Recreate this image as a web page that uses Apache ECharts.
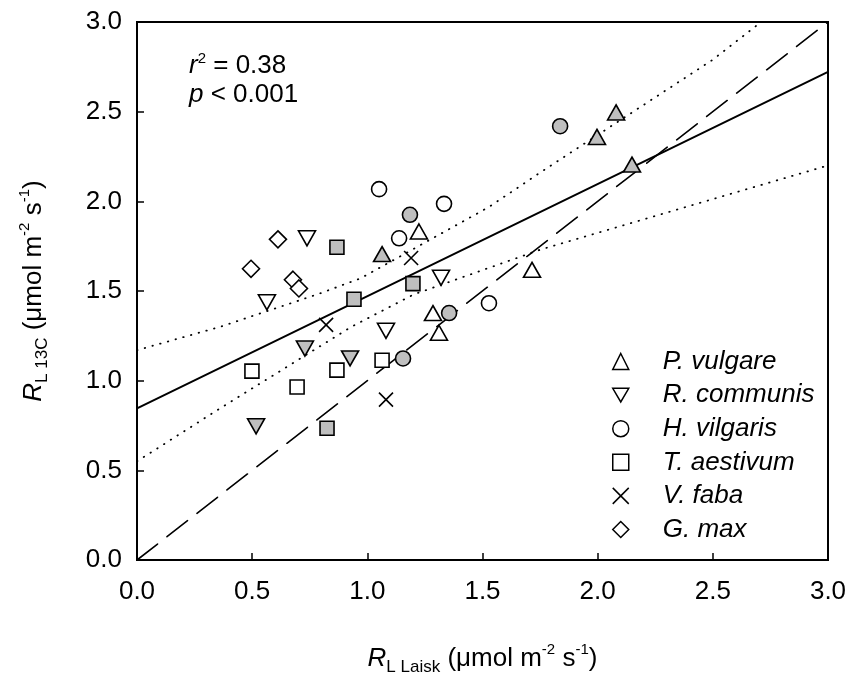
<!DOCTYPE html>
<html>
<head>
<meta charset="utf-8">
<script src="https://cdn.jsdelivr.net/npm/echarts@6/dist/echarts.min.js"></script>
<style>
html,body{margin:0;padding:0;background:#fff;}
#chart{width:852px;height:681px;}
</style>
</head>
<body>
<div id="chart"></div>
<script>
// ---- data ----
const xTickLabels = ['0.0','0.5','1.0','1.5','2.0','2.5','3.0'];
const yTickLabels = ['0.0','0.5','1.0','1.5','2.0','2.5','3.0'];
const speciesNames = ['P. vulgare','R. communis','H. vilgaris','T. aestivum','V. faba','G. max'];

const pVulgareOpen   = [[1.224,1.832],[1.285,1.377],[1.311,1.267],[1.715,1.618]];
const pVulgareFilled = [[1.064,1.706],[1.997,2.359],[2.080,2.496],[2.149,2.205]];
const rCommunisOpen   = [[0.738,1.794],[0.564,1.437],[1.320,1.574],[1.081,1.278]];
const rCommunisFilled = [[0.729,1.179],[0.925,1.124],[0.517,0.746]];
const hVilgarisOpen   = [[1.051,2.068],[1.333,1.986],[1.138,1.794],[1.528,1.432]];
const hVilgarisFilled = [[1.185,1.925],[1.355,1.377],[1.155,1.124],[1.837,2.419]];
const tAestivumOpen   = [[0.499,1.053],[0.695,0.965],[0.868,1.059],[1.064,1.114]];
const tAestivumFilled = [[0.868,1.744],[1.198,1.541],[0.942,1.454],[0.825,0.735]];
const vFaba = [[1.190,1.684],[0.821,1.311],[1.081,0.894]];
const gMax  = [[0.612,1.788],[0.495,1.624],[0.677,1.563],[0.703,1.514]];

const regressionLine = [[0,0.845],[3,2.722]];
const oneToOneLine   = [[0,0],[3,3]];
const ciUpper = [[0,1.17],[0.36,1.30],[0.78,1.48],[0.97,1.57],[1.53,1.97],[1.75,2.16],[2.5,2.79],[2.71,3.0]];
const ciLower = [[0,0.55],[0.36,0.845],[0.93,1.30],[1.2,1.48],[1.75,1.73],[2.6,2.05],[3.0,2.20]];

// ---- chart ----
const FONT = 'Liberation Sans, Arial, sans-serif';
const FS = 26;
const GRAY = '#bfbfbf';
const TRI_DOWN = 'path://M0,0L20,0L10,17Z';
const CROSS = 'path://M0,0L10,10M10,0L0,10';

function scatter(name, data, symbol, size, fill) {
  return {
    type: 'scatter', name: name, data: data, symbol: symbol, symbolSize: size,
    itemStyle: {color: fill, borderColor: '#000', borderWidth: 1.6, opacity: 1},
    emphasis: {disabled: true}, z: 3
  };
}
function line(data, width, type) {
  return {
    type: 'line', data: data, symbol: 'none', silent: true, smooth: false,
    lineStyle: {color: '#000', width: width, type: type, cap: 'round'}, z: 2
  };
}
function titleRich() {
  return {
    i: {fontStyle: 'italic', fontSize: FS, lineHeight: 34, fontFamily: FONT, color: '#000'},
    n: {fontSize: FS, lineHeight: 34, fontFamily: FONT, color: '#000'},
    sub: {fontSize: 17, lineHeight: 16, verticalAlign: 'bottom', fontFamily: FONT, color: '#000'},
    sup: {fontSize: 15, lineHeight: 18, verticalAlign: 'top', fontFamily: FONT, color: '#000'}
  };
}

const openStyle = {color: '#fff', borderColor: '#000', borderWidth: 1.5};

const chart = echarts.init(document.getElementById('chart'), null, {renderer: 'canvas'});
chart.setOption({
  animation: false,
  backgroundColor: '#fff',
  textStyle: {fontFamily: FONT},
  grid: {left: 137, right: 24, top: 22, bottom: 112, show: true, borderColor: '#000', borderWidth: 2, backgroundColor: 'transparent'},
  xAxis: {
    type: 'value', min: 0, max: 3, interval: 0.5,
    axisLine: {show: true, lineStyle: {color: '#000', width: 2}},
    axisTick: {show: true, inside: true, length: 7, lineStyle: {color: '#000', width: 1.5}},
    splitLine: {show: false},
    axisLabel: {margin: 19, color: '#000', fontSize: FS, fontFamily: FONT,
      formatter: v => xTickLabels[Math.round(v / 0.5)]},
    name: '{i|R}{sub|L Laisk}{n| (μmol m}{sup|-2}{n| s}{sup|-1}{n|)}',
    nameLocation: 'middle', nameGap: 82,
    nameTextStyle: {color: '#000', fontFamily: FONT, rich: titleRich()}
  },
  yAxis: {
    type: 'value', min: 0, max: 3, interval: 0.5,
    axisLine: {show: true, lineStyle: {color: '#000', width: 2}},
    axisTick: {show: true, inside: true, length: 7, lineStyle: {color: '#000', width: 1.5}},
    splitLine: {show: false},
    axisLabel: {margin: 15, color: '#000', fontSize: FS, fontFamily: FONT,
      formatter: v => yTickLabels[Math.round(v / 0.5)]},
    name: '{i|R}{sub|L 13C}{n| (μmol m}{sup|-2}{n| s}{sup|-1}{n|)}',
    nameLocation: 'middle', nameGap: 86, nameRotate: 90,
    nameTextStyle: {color: '#000', fontFamily: FONT, rich: titleRich()}
  },
  legend: {
    orient: 'vertical', left: 607, top: 343, itemWidth: 16, itemHeight: 16, itemGap: 6.6,
    selectedMode: false,
    textStyle: {fontSize: FS, fontStyle: 'italic', fontFamily: FONT, color: '#000', lineHeight: 27, padding: [0, 0, 0, 29]},
    data: [
      {name: speciesNames[0], icon: 'triangle', itemStyle: openStyle},
      {name: speciesNames[1], icon: TRI_DOWN, itemStyle: openStyle},
      {name: speciesNames[2], icon: 'circle', itemStyle: openStyle},
      {name: speciesNames[3], icon: 'rect', itemStyle: openStyle},
      {name: speciesNames[4], icon: CROSS, itemStyle: {color: 'transparent', borderColor: '#000', borderWidth: 1.5}},
      {name: speciesNames[5], icon: 'diamond', itemStyle: openStyle}
    ]
  },
  graphic: [{
    type: 'text', left: 189, top: 51, z: 10,
    style: {
      text: '{i|r}{sup|2}{n| = 0.38}\n{i|p}{n| < 0.001}',
      fill: '#000',
      rich: {
        i: {fontStyle: 'italic', fontSize: FS, lineHeight: 29, fontFamily: FONT, fill: '#000'},
        n: {fontSize: FS, lineHeight: 29, fontFamily: FONT, fill: '#000'},
        sup: {fontSize: 15, lineHeight: 18, verticalAlign: 'top', fontFamily: FONT, fill: '#000'}
      }
    }
  }],
  series: [
    line(ciUpper, 1.8, [0.5, 7.5]),
    line(ciLower, 1.8, [0.5, 7.5]),
    line(oneToOneLine, 1.6, [26, 12]),
    line(regressionLine, 2, 'solid'),
    scatter(speciesNames[0], pVulgareOpen, 'triangle', [17, 15], '#fff'),
    scatter(speciesNames[0] + ' filled', pVulgareFilled, 'triangle', [17, 15], GRAY),
    scatter(speciesNames[1], rCommunisOpen, TRI_DOWN, [17, 15], '#fff'),
    scatter(speciesNames[1] + ' filled', rCommunisFilled, TRI_DOWN, [17, 15], GRAY),
    scatter(speciesNames[2], hVilgarisOpen, 'circle', 15, '#fff'),
    scatter(speciesNames[2] + ' filled', hVilgarisFilled, 'circle', 15, GRAY),
    scatter(speciesNames[3], tAestivumOpen, 'rect', 14, '#fff'),
    scatter(speciesNames[3] + ' filled', tAestivumFilled, 'rect', 14, GRAY),
    scatter(speciesNames[4], vFaba, CROSS, 14, 'transparent'),
    scatter(speciesNames[5], gMax, 'diamond', [17, 17], '#fff')
  ]
});
</script>
</body>
</html>
